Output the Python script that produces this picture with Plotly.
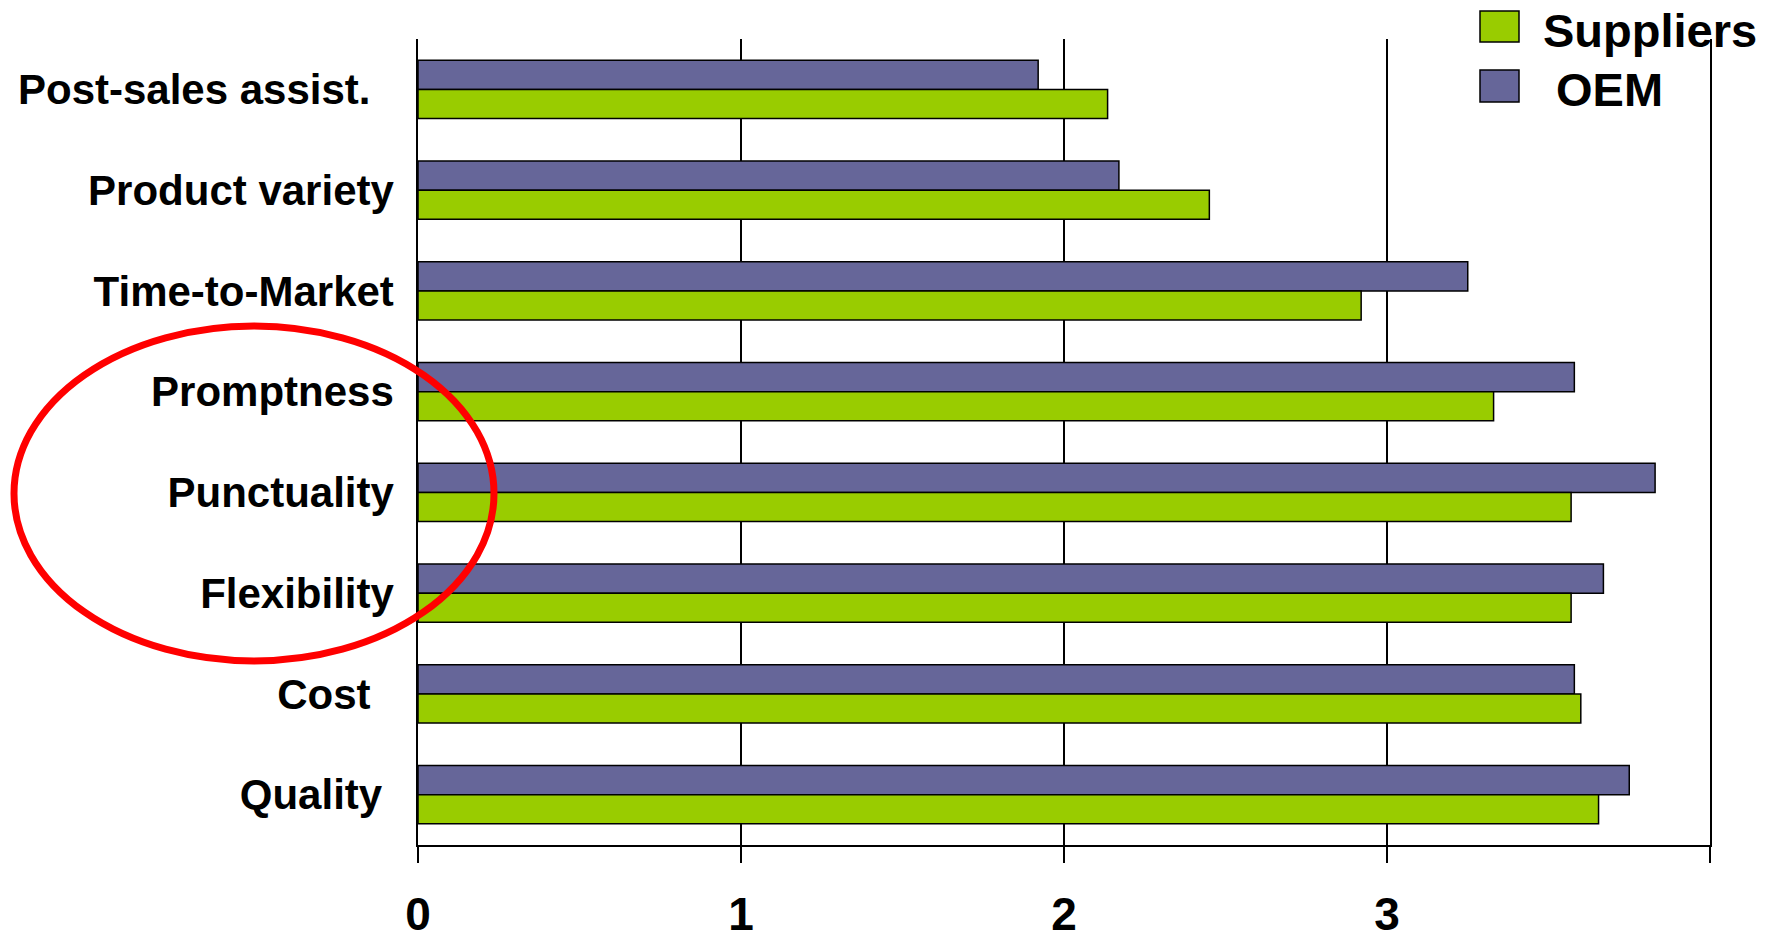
import plotly.graph_objects as go

categories = ["Post-sales assist.", "Product variety", "Time-to-Market", "Promptness",
              "Punctuality", "Flexibility", "Cost", "Quality"]
category_labels = ["Post-sales assist.\u00a0\u00a0", "Product variety", "Time-to-Market", "Promptness",
                   "Punctuality", "Flexibility", "Cost\u00a0\u00a0", "Quality\u00a0"]
oem_values = [1.92, 2.17, 3.25, 3.58, 3.83, 3.67, 3.58, 3.75]
supplier_values = [2.135, 2.45, 2.92, 3.33, 3.57, 3.57, 3.60, 3.655]
x_tickvals = [0, 1, 2, 3, 4]
x_ticktext = ["0", "1", "2", "3", ""]

OEM_COLOR = "#666699"
SUP_COLOR = "#99CC00"
FONT = "Liberation Sans, Arial, sans-serif"

W, H = 1781, 940
ML, MR, MT, MB = 418, 71, 39, 95
PW, PH = W - ML - MR, H - MT - MB

def px(xp):
    return (xp - ML) / PW

def py(yp):
    return (H - MB - yp) / PH

fig = go.Figure()
fig.add_trace(go.Bar(y=categories, x=oem_values, orientation="h", name="OEM",
                     marker=dict(color=OEM_COLOR, line=dict(color="black", width=1.5)),
                     showlegend=False))
fig.add_trace(go.Bar(y=categories, x=supplier_values, orientation="h", name="Suppliers",
                     marker=dict(color=SUP_COLOR, line=dict(color="black", width=1.5)),
                     showlegend=False))

shapes = [
    # red ellipse
    dict(type="circle", xref="paper", yref="paper", x0=px(14), x1=px(494), y0=py(661), y1=py(326),
         line=dict(color="#FF0000", width=7), layer="above"),
    # legend swatches
    dict(type="rect", xref="paper", yref="paper", x0=px(1480), x1=px(1519), y0=py(42), y1=py(11),
         fillcolor=SUP_COLOR, line=dict(color="black", width=1.5)),
    dict(type="rect", xref="paper", yref="paper", x0=px(1480), x1=px(1519), y0=py(102), y1=py(70),
         fillcolor=OEM_COLOR, line=dict(color="black", width=1.5)),
]
annotations = [
    dict(text="Suppliers", xref="paper", yref="paper", x=px(1541), y=py(30), xanchor="left",
         yanchor="middle", showarrow=False,
         font=dict(family=FONT, size=47, color="black", weight="bold")),
    dict(text="\u00a0OEM", xref="paper", yref="paper", x=px(1541), y=py(90), xanchor="left",
         yanchor="middle", showarrow=False,
         font=dict(family=FONT, size=47, color="black", weight="bold")),
]

fig.update_layout(
    width=W, height=H,
    margin=dict(l=ML, r=MR, t=MT, b=MB, pad=0, autoexpand=False),
    paper_bgcolor="white", plot_bgcolor="white",
    barmode="group", bargap=0.42, bargroupgap=0,
    shapes=shapes, annotations=annotations,
    showlegend=False,
)
fig.update_xaxes(range=[0, 4], tickvals=x_tickvals, ticktext=x_ticktext,
                 automargin=False,
                 showgrid=True, gridcolor="black", gridwidth=1.5,
                 zeroline=False, showline=True, linecolor="black", linewidth=2,
                 ticks="outside", ticklen=16, tickwidth=1.5, tickcolor="black",
                 ticklabelstandoff=12,
                 tickfont=dict(family=FONT, size=46, color="black", weight="bold"))
fig.update_yaxes(autorange="reversed", tickvals=categories, ticktext=category_labels,
                 automargin=False, mirror=True,
                 showgrid=False, showline=True, linecolor="black", linewidth=1.5,
                 ticks="", ticklabelstandoff=14,
                 tickfont=dict(family=FONT, size=42, color="black", weight="bold"))

fig.write_html("out.html")
